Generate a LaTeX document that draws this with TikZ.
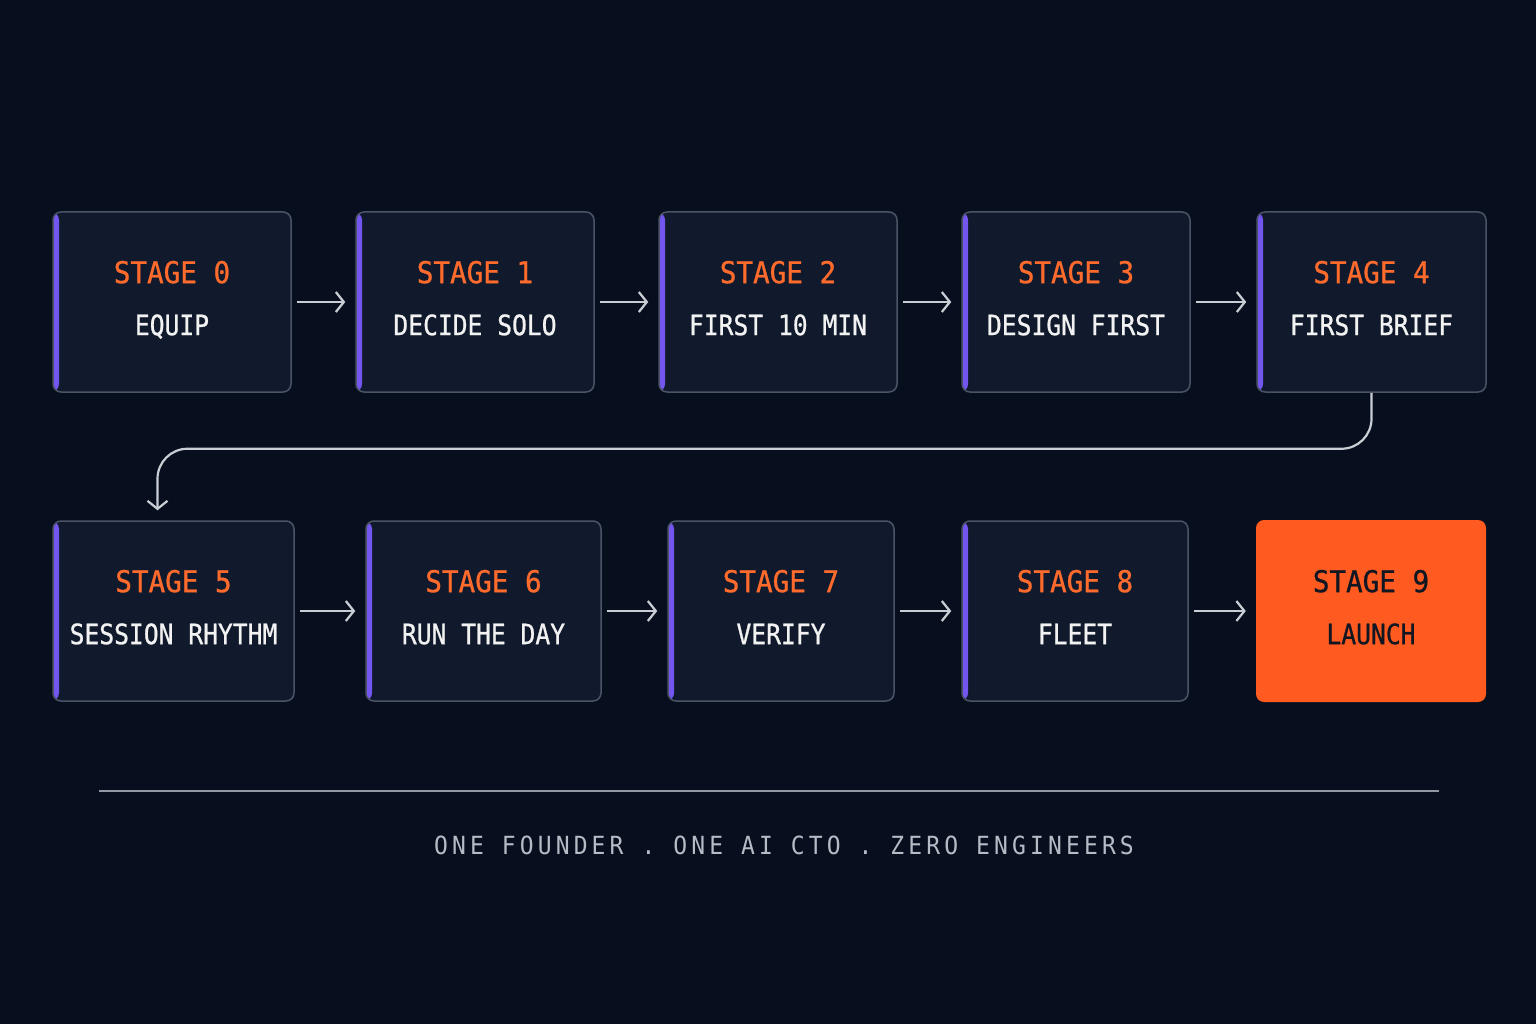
\documentclass[tikz,border=0pt]{standalone}
\usepackage{fontspec}
\usepackage{tikz}
\usetikzlibrary{arrows.meta}
\newfontfamily\stagemono[FakeStretch=0.92,FakeBold=0.8]{DejaVu Sans Mono}
\newfontfamily\namemono[FakeStretch=0.88,FakeBold=0.8]{DejaVu Sans Mono}
\newfontfamily\footmono[FakeStretch=0.92,LetterSpace=16.5]{DejaVu Sans Mono}
\definecolor{bgnavy}{HTML}{070F1E}
\definecolor{boxfill}{HTML}{101A2C}
\definecolor{boxedge}{HTML}{4B5466}
\definecolor{stagebar}{HTML}{7355F0}
\definecolor{stageorange}{HTML}{FF6B2C}
\definecolor{namewhite}{HTML}{F2F2F2}
\definecolor{arrowgray}{HTML}{C9CDD4}
\definecolor{launchorange}{HTML}{FF5A1F}
\definecolor{launchtext}{HTML}{111722}
\definecolor{rulegray}{HTML}{9098A4}
\definecolor{footgray}{HTML}{B6BCC6}
\def\stagetext#1#2{{\stagemono\fontsize{30}{52}\selectfont\color{stageorange}STAGE #1}\\#2}
\def\launchtext#1#2{{\stagemono\fontsize{30}{52}\selectfont STAGE #1}\\#2}
\tikzset{
	stagebox/.style={draw=boxedge, line width=1.5pt, fill=boxfill, rounded corners=8pt, minimum height=180pt, align=center, text depth=8pt, text=namewhite, font=\namemono\fontsize{28}{52}\selectfont, path picture={\fill[stagebar] (path picture bounding box.south west) rectangle ([xshift=6pt]path picture bounding box.north west);}},
	launchbox/.style={fill=launchorange, rounded corners=8pt, minimum height=182pt, align=center, text depth=8pt, text=launchtext, font=\namemono\fontsize{28}{52}\selectfont},
	flowarrow/.style={draw=arrowgray, line width=2.2pt, -{Straight Barb[length=8pt,width=20pt]}, shorten <=5pt, shorten >=10pt},
	tagline/.style={text=footgray, font=\footmono\fontsize{25}{30}\selectfont}
}
\begin{document}
\begin{tikzpicture}[x=1pt, y=-1pt]
		%%%%% START %%%%%
		
		\fill[bgnavy] (0,0) rectangle (1536,1024);
		\useasboundingbox (0,0) rectangle (1536,1024);
		
		% first row
		\node[stagebox, minimum width=238pt] (b0) at (172,302) {\stagetext{0}{EQUIP}};
		\node[stagebox, minimum width=238pt] (b1) at (475,302) {\stagetext{1}{DECIDE SOLO}};
		\node[stagebox, minimum width=238pt] (b2) at (778,302) {\stagetext{2}{FIRST 10 MIN}};
		\node[stagebox, minimum width=228pt] (b3) at (1076,302) {\stagetext{3}{DESIGN FIRST}};
		\node[stagebox, minimum width=229pt] (b4) at (1371.5,302) {\stagetext{4}{FIRST BRIEF}};
		
		% second row
		\node[stagebox, minimum width=241pt] (b5) at (173.5,611) {\stagetext{5}{SESSION RHYTHM}};
		\node[stagebox, minimum width=235pt] (b6) at (483.5,611) {\stagetext{6}{RUN THE DAY}};
		\node[stagebox, minimum width=226pt] (b7) at (781,611) {\stagetext{7}{VERIFY}};
		\node[stagebox, minimum width=226pt] (b8) at (1075,611) {\stagetext{8}{FLEET}};
		\node[launchbox, minimum width=230pt] (b9) at (1371,611) {\launchtext{9}{LAUNCH}};
		
		\draw[flowarrow] (b0) -- (b1);
		\draw[flowarrow] (b1) -- (b2);
		\draw[flowarrow] (b2) -- (b3);
		\draw[flowarrow] (b3) -- (b4);
		\draw[flowarrow, shorten <=0pt, rounded corners=30pt] (b4.south) -- ++(0,56) -| ([xshift=-16pt]b5.north);
		\draw[flowarrow] (b5) -- (b6);
		\draw[flowarrow] (b6) -- (b7);
		\draw[flowarrow] (b7) -- (b8);
		\draw[flowarrow] (b8) -- (b9);
		
		% footer
		\coordinate (ruleL) at (99,791);
		\coordinate (ruleR) at (1439,791);
		\draw[rulegray, line width=1.6pt] (ruleL) -- (ruleR);
		\node[tagline] (motto) at (784,845) {ONE FOUNDER . ONE AI CTO . ZERO ENGINEERS};
		
		%%%%% END %%%%%
	\end{tikzpicture}
\end{document}
